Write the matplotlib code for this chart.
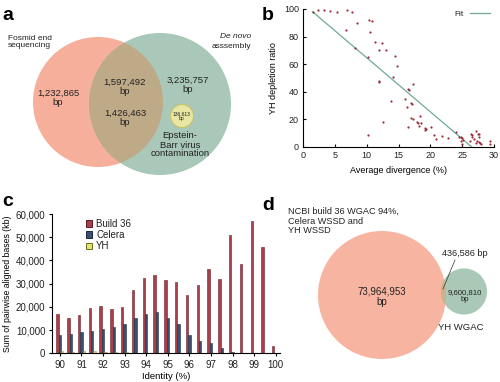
import matplotlib
matplotlib.use('Agg')
import matplotlib.pyplot as plt
import numpy as np
from matplotlib.patches import Circle, Patch
from matplotlib.lines import Line2D

plt.rcParams['font.family'] = ['Liberation Sans', 'DejaVu Sans']
plt.rcParams['text.color'] = '#222222'

# ---------------- data ----------------
# Panel a (Venn labels)
venn_a_left = '1,232,865\nbp'
venn_a_mid1 = '1,597,492\nbp'
venn_a_mid2 = '1,426,463\nbp'
venn_a_right = '3,235,757\nbp'
venn_a_ebv = '136,613\nbp'

# Panel b (scatter)
div_x = [1.5, 2.4, 3.3, 4.2, 5.4, 6.9, 7.7, 6.8, 8.5, 8.2, 10.3, 10.8, 10.6, 11.3, 12.4,
         11.9, 13.0, 10.2, 11.9, 11.9, 14.5, 14.8, 14.2, 13.9, 12.6, 10.2, 17.3, 16.5,
         16.7, 16.0, 17.0, 17.1, 16.3, 17.0, 17.2, 16.5, 18.4, 17.95, 18.1, 18.6, 18.2,
         19.1, 19.3, 19.2, 20.1, 20.5, 20.9, 21.9, 22.7, 24.0, 24.5, 24.8, 25.0, 25.1,
         24.8, 25.0, 26.4, 26.6, 26.5, 27.2, 27.5, 27.7, 26.9, 27.3, 27.6, 27.8, 27.1,
         28.0, 29.3, 29.3, 27.7, 26.3]
dep_y = [98, 99.5, 99, 98.5, 98, 99, 97.6, 85, 90, 72, 92, 91, 83, 76, 75,
         70, 70, 65.5, 48, 47, 66, 59, 51, 33.6, 18, 8.7, 45.6, 41.8,
         41, 35, 32, 31, 29.2, 21.2, 20, 14.3, 22.5, 18.4, 17.6, 17.6, 15.2,
         14, 13, 12, 14.8, 8.7, 5.6, 8, 6.6, 10.9, 7, 7.5, 6.5, 5,
         4.5, 2.5, 9.5, 8.5, 7.5, 11.8, 9.5, 9.5, 6, 4.5, 3.5, 3, 2.7,
         2, 4, 2.5, 7, 4]
fit_slope = -3.92
fit_intercept = 103.9
fit_range = [1.5, 26.5]

# Panel c (bars)
identity = [90, 90.5, 91, 91.5, 92, 92.5, 93, 93.5, 94, 94.5, 95, 95.5, 96, 96.5,
            97, 97.5, 98, 98.5, 99, 99.5, 100]
build36 = [17000, 15000, 16500, 19400, 20400, 19200, 20100, 27300, 32600, 33700, 31600,
           30500, 25100, 29400, 36500, 31900, 51000, 38600, 57200, 45700, 3100]
celera = [7900, 8300, 9300, 9800, 10300, 11500, 12800, 15100, 16900, 17800, 15400,
          12500, 7800, 5500, 4300, 2300, 600, 200, 100, 0, 0]
yh = [900, 700, 1200, 1000, 700, 600, 500, 300, 200, 200, 150, 100, 100, 50,
      50, 30, 20, 10, 10, 0, 0]
c_ticks = [90, 91, 92, 93, 94, 95, 96, 97, 98, 99, 100]
c_yticks = [0, 10000, 20000, 30000, 40000, 50000, 60000]

# Panel d (Venn)
d_big = 73964953
d_small = 9600810
d_overlap = 436586

# ---------------- figure ----------------
W, H = 500, 382
fig = plt.figure(figsize=(W / 100, H / 100), dpi=100)

def fax(l, t, r, b):
    return fig.add_axes([l / W, 1 - b / H, (r - l) / W, (b - t) / H])

# overlay axes in pixel coordinates
ov = fig.add_axes([0, 0, 1, 1], zorder=0)
ov.set_xlim(0, W)
ov.set_ylim(H, 0)
ov.axis('off')
ov.patch.set_alpha(0)

pink_a = '#F5AF9B'
green_a = '#AAC8B9'
over_a = '#BEAA87'

# ---- panel a ----
ov.text(2, 20, 'a', fontsize=14, fontweight='bold', va='baseline', color='black')
ov.add_patch(Circle((98, 102), 65, fc=pink_a, ec='none'))
ov.add_patch(Circle((160, 104), 71, fc=green_a, ec='none'))
co = Circle((160, 104), 71, fc=over_a, ec='none')
ov.add_patch(co)
co.set_clip_path(Circle((98, 102), 65, transform=ov.transData))
ov.add_patch(Circle((182, 116), 11.5, fc='#E8E6A2', ec='#C8C36A', lw=0.8))

ov.text(8, 42, 'Fosmid end\nsequencing', fontsize=6, ha='left', va='center', linespacing=1.1)
ov.text(251, 37, 'De novo', fontsize=6, ha='right', va='center', style='italic')
ov.text(251, 47, 'asssembly', fontsize=6, ha='right', va='center')
ov.text(58, 98, venn_a_left, fontsize=6.8, ha='center', va='center', linespacing=1.1)
ov.text(125, 87, venn_a_mid1, fontsize=6.8, ha='center', va='center', linespacing=1.1)
ov.text(125, 118, venn_a_mid2, fontsize=6.8, ha='center', va='center', linespacing=1.1)
ov.text(188, 85, venn_a_right, fontsize=6.8, ha='center', va='center', linespacing=1.1)
ov.text(182, 116, venn_a_ebv, fontsize=3.6, ha='center', va='center', linespacing=1.0)
ov.text(180, 145, 'Epstein-\nBarr virus\ncontamination', fontsize=6.8, ha='center',
        va='center', linespacing=1.0)

# ---- panel b ----
ov.text(262, 20, 'b', fontsize=14, fontweight='bold', va='baseline', color='black')
axb = fax(303, 9, 494, 147)
axb.scatter(div_x, dep_y, s=2.5, c='#9A2A38', linewidths=0, zorder=3)
fx = np.array(fit_range)
axb.plot(fx, fit_intercept + fit_slope * fx, color='#6FA996', lw=0.9, label='Fit')
axb.set_xlim(0, 30)
axb.set_ylim(0, 100)
axb.set_xticks([0, 5, 10, 15, 20, 25, 30])
axb.set_yticks([0, 20, 40, 60, 80, 100])
for s in ['top', 'right']:
    axb.spines[s].set_visible(False)
for s in ['left', 'bottom']:
    axb.spines[s].set_linewidth(0.8)
axb.tick_params(direction='in', length=2.5, width=0.8, labelsize=6.5, pad=3,
                labelcolor='#222222')
axb.set_xlabel('Average divergence (%)', fontsize=6.5, labelpad=4)
axb.set_ylabel('YH depletion ratio', fontsize=6.5, labelpad=4)
axb.legend(loc='upper right', frameon=False, fontsize=6, markerfirst=False,
           handlelength=2.4, borderaxespad=0.1, bbox_to_anchor=(1.0, 1.02))

# ---- panel c ----
ov.text(2, 206, 'c', fontsize=14, fontweight='bold', va='baseline', color='black')
axc = fax(51.7, 214, 280, 353.3)
x = np.array(identity)
w = 0.11
axc.bar(x - w, build36, width=w, color='#AA3E4A', edgecolor='#6E2029', lw=0.4, label='Build 36')
axc.bar(x, celera, width=w, color='#3C506E', edgecolor='#1E3046', lw=0.4, label='Celera')
axc.bar(x + w, yh, width=w, color='#D8D56E', edgecolor='#9A9A50', lw=0.4, label='YH')
axc.set_xlim(89.62, 100.2)
axc.set_ylim(0, 60000)
axc.set_xticks(c_ticks)
axc.set_xticklabels([str(t) for t in c_ticks])
axc.set_yticks(c_yticks)
axc.set_yticklabels(['{:,}'.format(v) for v in c_yticks])
for s in ['top', 'right']:
    axc.spines[s].set_visible(False)
for s in ['left', 'bottom']:
    axc.spines[s].set_linewidth(0.8)
axc.tick_params(direction='out', length=2.5, width=0.8, labelsize=7, pad=2,
                labelcolor='#222222')
axc.set_xlabel('Identity (%)', fontsize=6.8, labelpad=2)
axc.set_ylabel('Sum of pairwise aligned bases (kb)', fontsize=6.3, labelpad=3)
handles = [Patch(fc='#AA3E4A', ec='#5a1a20', lw=0.7),
           Patch(fc='#3C506E', ec='#16283a', lw=0.7),
           Patch(fc='#E6E36A', ec='#6a6a20', lw=0.7)]
axc.legend(handles, ['Build 36', 'Celera', 'YH'], loc='upper left',
           bbox_to_anchor=(0.11, 1.03), frameon=False, fontsize=7,
           handlelength=0.7, handleheight=0.7, handletextpad=0.4, labelspacing=0.15)

# ---- panel d ----
ov.text(262, 210, 'd', fontsize=14, fontweight='bold', va='baseline', color='black')
k = 64 / np.sqrt(d_big)
rb = k * np.sqrt(d_big)
rs = k * np.sqrt(d_small)
pink_d = '#F7B4A0'
green_d = '#AAC8B6'
ov.add_patch(Circle((382, 295), rb, fc=pink_d, ec='none'))
ov.add_patch(Circle((464, 291.5), rs, fc=green_d, ec='none'))
cod = Circle((464, 291.5), rs, fc='#CDB090', ec='none')
ov.add_patch(cod)
cod.set_clip_path(Circle((382, 295), rb, transform=ov.transData))
ov.text(288, 221, 'NCBI build 36 WGAC 94%,\nCelera WSSD and\nYH WSSD', fontsize=6.6,
        ha='left', va='center', linespacing=1.1)
ov.text(382, 297, '{:,}\nbp'.format(d_big), fontsize=7, ha='center', va='center',
        linespacing=1.1)
ov.text(465, 296, '{:,}\nbp'.format(d_small), fontsize=5.6, ha='center', va='center',
        linespacing=1.1)
ov.text(465, 254, '{:,} bp'.format(d_overlap), fontsize=6.6, ha='center', va='center')
ov.plot([455, 443], [260, 289], color='#333333', lw=0.5)
ov.text(461, 327, 'YH WGAC', fontsize=6.8, ha='center', va='center')

fig.savefig('out.png', dpi=100)
